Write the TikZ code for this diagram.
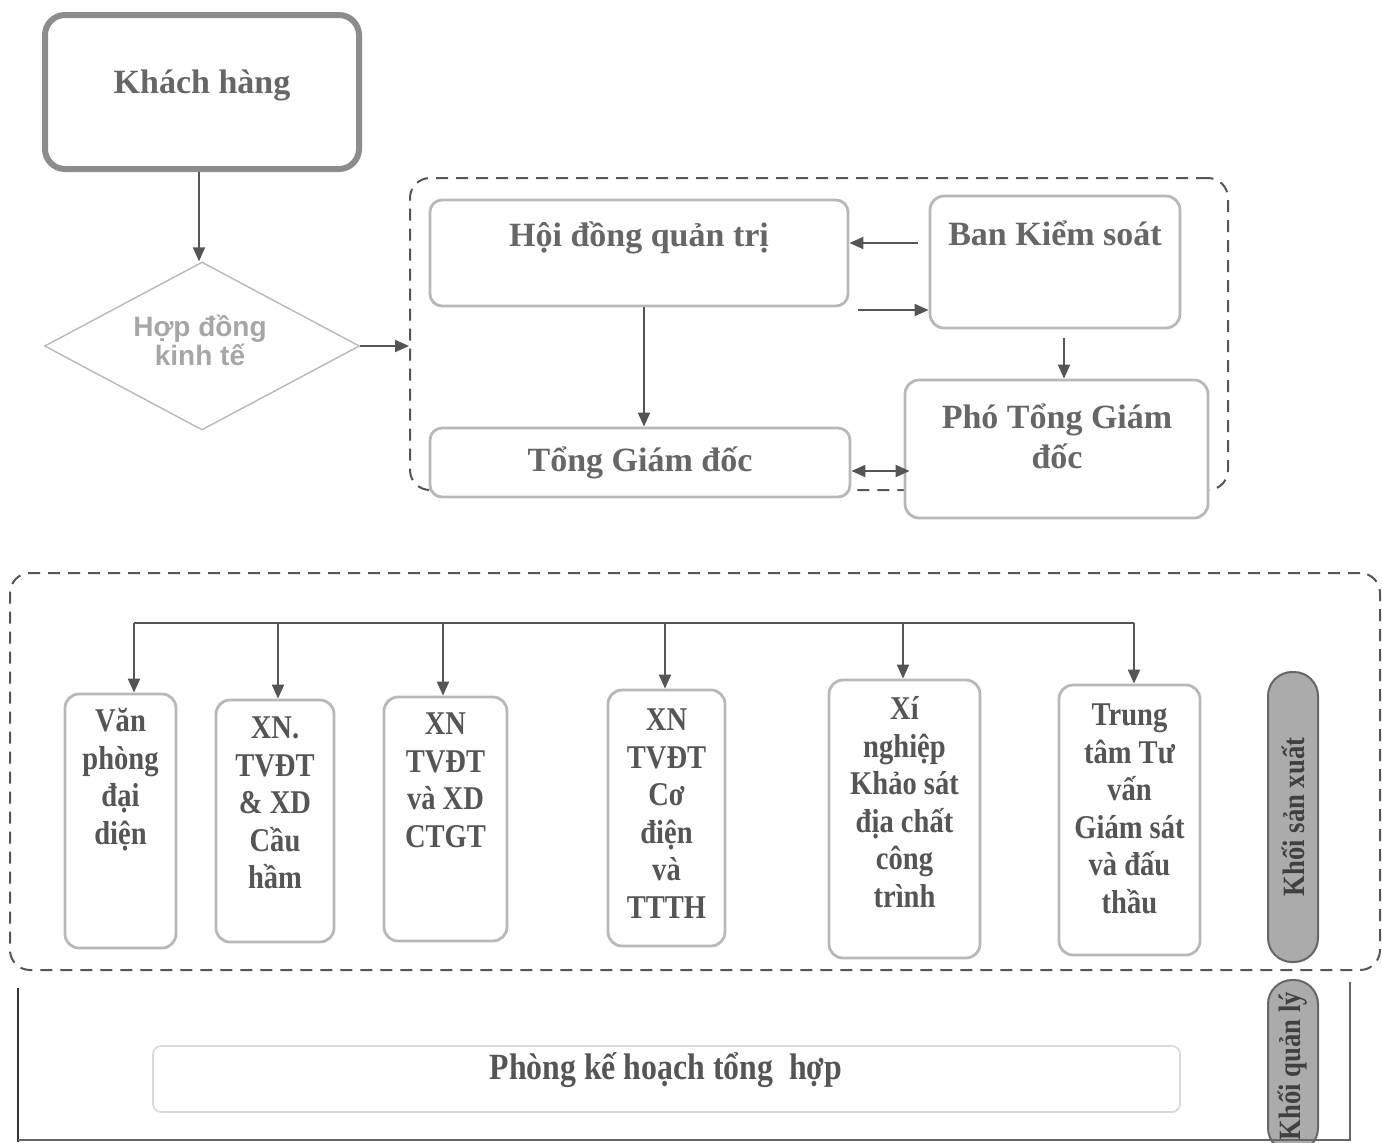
\documentclass[tikz,border=0pt]{standalone}
\usepackage{fontspec}
\setmainfont{Liberation Serif}
\newfontfamily\condf[FakeStretch=0.86]{Liberation Serif}
\newfontfamily\sansf{Liberation Sans}
\usetikzlibrary{shapes.geometric,arrows.meta}
\definecolor{toptxt}{HTML}{666666}
\definecolor{lowtxt}{HTML}{555555}
\definecolor{boxc}{HTML}{B8B8B8}
\definecolor{arrc}{HTML}{555555}
\definecolor{khc}{HTML}{8C8C8C}
\definecolor{pillf}{HTML}{ABABAB}
\definecolor{pilld}{HTML}{666666}
\begin{document}
\begin{tikzpicture}[x=0.5pt,y=-0.5pt,
  sz/.style 2 args={minimum width=#1*0.5pt, minimum height=#2*0.5pt},
  box/.style={draw=boxc, line width=1.4pt, rounded corners=7pt, fill=white, inner sep=0pt},
  dbox/.style={draw=arrc, line width=1pt, dash pattern=on 6pt off 4pt, rounded corners=10pt, inner sep=0pt},
  arr/.style={draw=arrc, line width=1pt, -{Triangle[length=7pt,width=6pt]}},
  arrtwo/.style={draw=arrc, line width=1pt, {Triangle[length=7pt,width=6pt]}-{Triangle[length=7pt,width=6pt]}},
  ttl/.style={text=toptxt, font=\fontsize{17}{20}\selectfont\bfseries, align=center, inner sep=0pt},
  ltx/.style={text=lowtxt, font=\condf\fontsize{16.6}{18.75}\selectfont\bfseries, align=center, inner sep=0pt, anchor=north},
  pill/.style={draw=pilld, fill=pillf, line width=1pt, rounded corners=12pt, inner sep=0pt,
    text=black!75, font=\condf\fontsize{15.5}{18}\selectfont\bfseries}]
\useasboundingbox (0,0) rectangle (1382,1142);

% dashed groups
\node[dbox, sz={818}{312}] (topgrp) at (819,334) {};
\node[dbox, sz={1370}{397}] (lowgrp) at (695,571.5+200) {};

% Khach hang
\node[draw=khc, line width=3pt, rounded corners=10pt, fill=white, sz={314}{154}] (kh) at (202,92) {};
\node[ttl] at (202,85) {Khách hàng};

% diamond
\node[diamond, draw=boxc, line width=0.7pt, inner sep=0pt, sz={315}{168}] (dia) at (202,346) {};
\node[text=black!35, font=\sansf\fontsize{14}{14.5}\selectfont\bfseries, align=center, inner sep=0pt] at (200,340) {Hợp đồng\\kinh tế};

% top boxes
\node[box, rounded corners=6pt, sz={418}{106}] (hdqt) at (639,253) {};
\node[ttl] at (639,238) {Hội đồng quản trị};
\node[box, sz={250}{132}] (bks) at (1055,262) {};
\node[ttl] at (1055,233) {Ban Kiểm soát};
\node[box, rounded corners=6pt, sz={420}{69}] (tgd) at (640,462.5) {};
\node[ttl] at (640,463) {Tổng Giám đốc};
\node[box, sz={303}{138}] (ptgd) at (1056.5,449) {};
\node[ttl, font=\fontsize{17}{20}\selectfont\bfseries] at (1057,436) {Phó Tổng Giám\\đốc};

% top connectors
\draw[arr] (kh.south -| 199,0) -- (dia.north -| 199,0);
\draw[arr] (dia.east) -- (dia.east -| topgrp.west);
\coordinate (c1) at (918,243);
\draw[arr] (c1) -- (c1 -| hdqt.east);
\coordinate (c2) at (858,310);
\draw[arr] (c2) -- (c2 -| bks.west);
\coordinate (c3) at (644,0);
\draw[arr] (hdqt.south -| c3) -- (tgd.north -| c3);
\coordinate (c4) at (1064,338);
\draw[arr] (c4) -- (c4 |- ptgd.north);
\coordinate (c5) at (0,471);
\draw[arrtwo] (tgd.east |- c5) -- ([xshift=3pt]ptgd.west |- c5);

% lower boxes
\node[box, sz={111}{254}] (b1) at (120.5,821) {};
\node[ltx] at (120.5,705) {\strut Văn\\phòng\\đại\\diện};
\node[box, sz={118}{242}] (b2) at (275,821) {};
\node[ltx] at (275,712) {\strut XN.\\TVĐT\\\& XD\\Cầu\\hầm};
\node[box, sz={123}{244}] (b3) at (445.5,819) {};
\node[ltx] at (445.5,708) {\strut XN\\TVĐT\\và XD\\CTGT};
\node[box, sz={117}{256}] (b4) at (666.5,818) {};
\node[ltx] at (666.5,704) {\strut XN\\TVĐT\\Cơ\\điện\\và\\TTTH};
\node[box, sz={151}{278}] (b5) at (904.5,819) {};
\node[ltx] at (904.5,693) {\strut Xí\\nghiệp\\Khảo sát\\địa chất\\công\\trình};
\node[box, sz={141}{270}] (b6) at (1129.5,820) {};
\node[ltx] at (1129.5,699) {\strut Trung\\tâm Tư\\vấn\\Giám sát\\và đấu\\thầu};

% bus
\coordinate (h1) at (134,623);
\coordinate (h2) at (278,623);
\coordinate (h3) at (443,623);
\coordinate (h4) at (665,623);
\coordinate (h5) at (903,623);
\coordinate (h6) at (1134,623);
\draw[draw=arrc, line width=1pt] (h1) -- (h6);
\draw[arr] (h1) -- (h1 |- b1.north);
\draw[arr] (h2) -- (h2 |- b2.north);
\draw[arr] (h3) -- (h3 |- b3.north);
\draw[arr] (h4) -- (h4 |- b4.north);
\draw[arr] (h5) -- (h5 |- b5.north);
\draw[arr] (h6) -- (h6 |- b6.north);

% pills
\node[pill, rotate=90, sz={290}{50}] (ksx) at (1293,817) {Khối sản xuất};
\node[pill, rotate=90, sz={172}{50}] (kql) at (1293,1066) {Khối quản lý};

% management frame
\draw[black!80, line width=1.2pt] (18,988) -- (18,1142);
\draw[black!60, line width=1pt] (18,1140) -- (1350,1140) -- (1350,982);

% Phong ke hoach
\node[draw=black!15, line width=0.8pt, rounded corners=4pt, inner sep=0pt, sz={1027}{66}] (pkh) at (666.5,1079) {};
\node[text=lowtxt, font=\condf\fontsize{18.5}{20}\selectfont\bfseries, inner sep=0pt] at (666,1070) {Phòng kế hoạch tổng\ \ hợp};
\end{tikzpicture}
\end{document}
